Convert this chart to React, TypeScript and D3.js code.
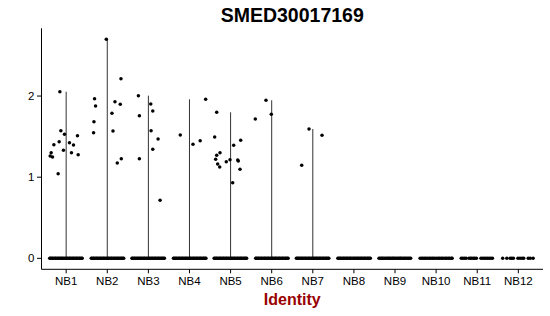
import React from "react";
import * as d3 from "d3";

const title = "SMED30017169";
const xTitle = "Identity";
const categories = ["NB1", "NB2", "NB3", "NB4", "NB5", "NB6", "NB7", "NB8", "NB9", "NB10", "NB11", "NB12"];
const yTicks = [0, 1, 2];

// non-zero expression values per cluster and their horizontal jitter (fraction of band step)
const nb1Values = [2.054, 1.573, 1.529, 1.512, 1.438, 1.425, 1.397, 1.401, 1.332, 1.302, 1.277, 1.302, 1.261, 1.249, 1.043];
const nb1Jitter = [-0.153, -0.129, -0.041, 0.275, -0.17, 0.08, 0.178, -0.299, -0.066, 0.129, 0.292, -0.365, -0.389, -0.333, -0.195];
const nb2Values = [2.7, 2.214, 1.968, 1.878, 1.684, 1.549, 1.931, 1.899, 1.788, 1.57, 1.175, 1.228];
const nb2Jitter = [-0.024, 0.333, -0.309, -0.285, -0.324, -0.333, 0.187, 0.316, 0.114, 0.139, 0.243, 0.341];
const nb3Values = [2.005, 1.902, 1.816, 1.758, 1.573, 1.471, 1.344, 1.228, 0.715];
const nb3Jitter = [-0.243, 0.058, 0.107, -0.219, 0.066, 0.236, 0.107, -0.219, 0.285];
const nb4Values = [1.96, 1.52, 1.405, 1.45];
const nb4Jitter = [0.394, -0.224, 0.085, 0.26];
const nb5Values = [1.8, 1.496, 1.393, 1.455, 1.302, 1.27, 1.221, 1.163, 1.126, 1.191, 1.216, 1.212, 1.2, 1.097, 0.932];
const nb5Jitter = [-0.338, -0.387, 0.075, 0.246, -0.258, -0.338, -0.363, -0.314, -0.265, -0.105, -0.015, 0.173, 0.187, 0.229, 0.051];
const nb6Values = [1.948, 1.775, 1.717];
const nb6Jitter = [-0.139, -0.01, -0.399];
const nb7Values = [1.594, 1.517, 1.147];
const nb7Jitter = [-0.092, 0.224, -0.27];

// jitter of the zero-valued cells per cluster
const zDense1 = [-0.4, -0.38, -0.35, -0.33, -0.3, -0.27, -0.25, -0.22, -0.19, -0.17, -0.14, -0.11, -0.09, -0.06, -0.03, 0.0, 0.02, 0.05, 0.08, 0.1, 0.13, 0.16, 0.18, 0.21, 0.24, 0.26, 0.29, 0.32, 0.34, 0.37, 0.39];
const zDense2 = [-0.39, -0.37, -0.34, -0.32, -0.29, -0.26, -0.24, -0.21, -0.18, -0.16, -0.13, -0.1, -0.08, -0.05, -0.02, 0.01, 0.03, 0.06, 0.09, 0.11, 0.14, 0.17, 0.19, 0.22, 0.25, 0.27, 0.3, 0.33, 0.35, 0.38, 0.4];
const zNB9 = [-0.39, -0.36, -0.33, -0.31, -0.28, -0.25, -0.22, -0.19, -0.16, -0.14, -0.11, -0.08, -0.05, -0.03, 0.0, 0.03, 0.06, 0.09, 0.12, 0.14, 0.17, 0.2, 0.23, 0.26, 0.29, 0.32, 0.35, 0.38];
const zNB10 = [-0.39, -0.35, -0.32, -0.28, -0.25, -0.21, -0.17, -0.14, -0.1, -0.07, -0.03, 0.01, 0.05, 0.08, 0.12, 0.15, 0.19, 0.23, 0.26, 0.3, 0.33, 0.37, 0.39];
const zNB11 = [-0.39, -0.35, -0.31, -0.27, -0.2, -0.16, -0.13, -0.09, -0.06, -0.02, 0.09, 0.13, 0.17, 0.21, 0.25, 0.29, 0.33, 0.37];
const zNB12 = [-0.38, -0.28, -0.2, -0.16, -0.12, -0.01, 0.04, 0.09, 0.13, 0.24, 0.29, 0.36];

const values = [nb1Values, nb2Values, nb3Values, nb4Values, nb5Values, nb6Values, nb7Values, [], [], [], [], []];
const jitters = [nb1Jitter, nb2Jitter, nb3Jitter, nb4Jitter, nb5Jitter, nb6Jitter, nb7Jitter, [], [], [], [], []];
const zeroJitters = [zDense1, zDense2, zDense1, zDense2, zDense1, zDense2, zDense1, zDense2, zNB9, zNB10, zNB11, zNB12];

export default function App() {
  const W = 550, H = 316;
  const left = 41.5, right = 543, top = 28.3, bottom = 269.3;
  const allVals = values.flat();
  const yMax = d3.max(allVals) as number;
  const pad = yMax * 0.05;
  const y = d3.scaleLinear().domain([-pad, yMax + pad]).range([bottom, top]);
  const x = d3.scalePoint<string>().domain(categories).range([left, right]).padding(0.6);
  const step = x.step();
  const font = "'Liberation Sans', Arial, Helvetica, sans-serif";

  return (
    <svg width={W} height={H} style={{ position: "absolute", left: 0, top: 0, background: "#fff" }} fontFamily={font}>
      <rect width={W} height={H} fill="#fff" />
      <text x={(left + right) / 2} y={22} textAnchor="middle" fontWeight="bold" fontSize={19.5} fill="#000">{title}</text>

      {/* violins (degenerate to lines) */}
      {categories.map((c, i) => {
        const vals = values[i];
        if (!vals.length) return null;
        const mx = d3.max(vals) as number;
        return <line key={"v" + c} x1={x(c)} x2={x(c)} y1={y(0)} y2={y(mx)} stroke="#333" strokeWidth={1} />;
      })}

      {/* zero points */}
      {categories.map((c, i) =>
        zeroJitters[i].map((j, k) => (
          <circle key={"z" + c + k} cx={(x(c) as number) + j * step} cy={y(0)} r={1.75} fill="#000" />
        ))
      )}

      {/* nonzero points */}
      {categories.map((c, i) =>
        values[i].map((v, k) => (
          <circle key={"p" + c + k} cx={(x(c) as number) + jitters[i][k] * step} cy={y(v)} r={1.75} fill="#000" />
        ))
      )}

      {/* axes */}
      <line x1={left} x2={left} y1={top} y2={bottom} stroke="#000" strokeWidth={1} />
      <line x1={left} x2={right} y1={bottom} y2={bottom} stroke="#000" strokeWidth={1} />
      {yTicks.map((t) => (
        <g key={"yt" + t}>
          <line x1={left - 4.5} x2={left} y1={y(t)} y2={y(t)} stroke="#000" strokeWidth={1} />
          <text x={left - 7} y={y(t)} dy="0.35em" textAnchor="end" fontSize={11.5} fill="#000">{t}</text>
        </g>
      ))}
      {categories.map((c) => (
        <g key={"xt" + c}>
          <line x1={x(c)} x2={x(c)} y1={bottom} y2={bottom + 4} stroke="#000" strokeWidth={1} />
          <text x={x(c)} y={285} textAnchor="middle" fontSize={11.5} fill="#000">{c}</text>
        </g>
      ))}
      <text x={(left + right) / 2} y={305} textAnchor="middle" fontWeight="bold" fontSize={16} fill="#990000">{xTitle}</text>
    </svg>
  );
}
